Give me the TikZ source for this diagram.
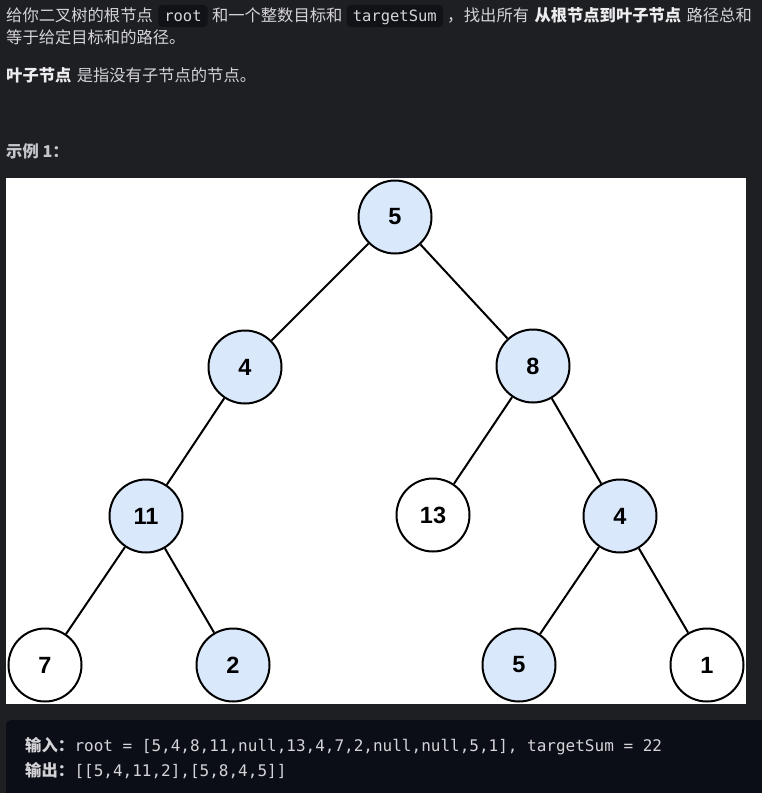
\documentclass[tikz,border=0pt]{standalone}
\usepackage{fontspec}
\setmainfont{Noto Sans CJK SC}
\newfontfamily\codefont{DejaVu Sans Mono}
\newfontfamily\digitfont{Liberation Sans}
\usetikzlibrary{positioning}
\definecolor{pagebg}{HTML}{1E1F23}
\definecolor{inlinebg}{HTML}{111217}
\definecolor{blockbg}{HTML}{0B0E16}
\definecolor{bodytext}{HTML}{D4D4D8}
\definecolor{strongtext}{HTML}{EDEDF0}
\definecolor{headtext}{HTML}{C3C6CC}
\definecolor{pathblue}{HTML}{DAE8FC}

\begin{document}
\begin{tikzpicture}[x=1pt,y=-1pt,
    txt/.style={anchor=base west,inner sep=0pt,text=bodytext,font=\fontsize{16.3}{20}\selectfont},
    strong/.style={txt,font=\fontsize{16.3}{20}\selectfont\bfseries,text=strongtext},
    code/.style={anchor=base west,fill=inlinebg,rounded corners=4pt,inner xsep=6pt,inner ysep=0pt,
      text height=16pt,text depth=6pt,text=bodytext,font=\codefont\fontsize{15.5}{20}\selectfont},
    tnode/.style={circle,draw=black,line width=2pt,minimum size=73pt,inner sep=0pt,
      font=\digitfont\bfseries\fontsize{23.5}{23.5}\selectfont},
    onpath/.style={tnode,fill=pathblue},
    offpath/.style={tnode,fill=white},
    edge/.style={line width=2pt}]
  \useasboundingbox[fill=pagebg] (0,0) rectangle (762,793);

  % question text
  \node[txt] (t1) at (6,21) {给你二叉树的根节点};
  \node[code] (c1) at ([xshift=5pt]t1.base east) {root};
  \node[txt] (t2) at ([xshift=4pt]c1.base east) {和一个整数目标和};
  \node[code] (c2) at ([xshift=4pt]t2.base east) {targetSum};
  \node[txt] (comma) at ([xshift=4pt]c2.base east) {，};
  \node[txt] (t3) at (comma.base east) {找出所有};
  \node[strong] (t4) at ([xshift=5pt]t3.base east) {从根节点到叶子节点};
  \node[txt] (t5) at ([xshift=5pt]t4.base east) {路径总和};
  \node[txt] (t6) at (6,43) {等于给定目标和的路径。};
  \node[strong] (leaf) at (6,81) {叶子节点};
  \node[txt] (leafdef) at ([xshift=5pt]leaf.base east) {是指没有子节点的节点。};
  \node[strong,text=headtext] (ex) at (6,157) {示例 1：};

  % tree
  \fill[white] (6,178) rectangle (746,704);
  \node[onpath] (r5) at (395,217) {5};
  \node[onpath] (l4) at (245,367) {4};
  \node[onpath] (r8) at (533,366) {8};
  \node[onpath] (l11) at (146,516) {11};
  \node[offpath] (m13) at (433,515) {13};
  \node[onpath] (r4) at (620,516) {4};
  \node[offpath] (l7) at (45,665) {7};
  \node[onpath] (l2) at (233,665) {2};
  \node[onpath] (r5b) at (519,665) {5};
  \node[offpath] (r1) at (707,665) {1};
  \draw[edge] (r5) -- (l4);
  \draw[edge] (r5) -- (r8);
  \draw[edge] (l4) -- (l11);
  \draw[edge] (l11) -- (l7);
  \draw[edge] (l11) -- (l2);
  \draw[edge] (r8) -- (m13);
  \draw[edge] (r8) -- (r4);
  \draw[edge] (r4) -- (r5b);
  \draw[edge] (r4) -- (r1);

  % example block
  \fill[blockbg,rounded corners=5pt] (6,720) rectangle (780,810);
  \node[txt] (inp) at (25,751) {\bfseries 输入：};
  \node[txt,font=\codefont\fontsize{16}{20}\selectfont] (inpv) at (inp.base east) {root = [5,4,8,11,null,13,4,7,2,null,null,5,1], targetSum = 22};
  \node[txt] (outp) at (25,776) {\bfseries 输出：};
  \node[txt,font=\codefont\fontsize{16}{20}\selectfont] (outpv) at (outp.base east) {[[5,4,11,2],[5,8,4,5]]};
\end{tikzpicture}
\end{document}
